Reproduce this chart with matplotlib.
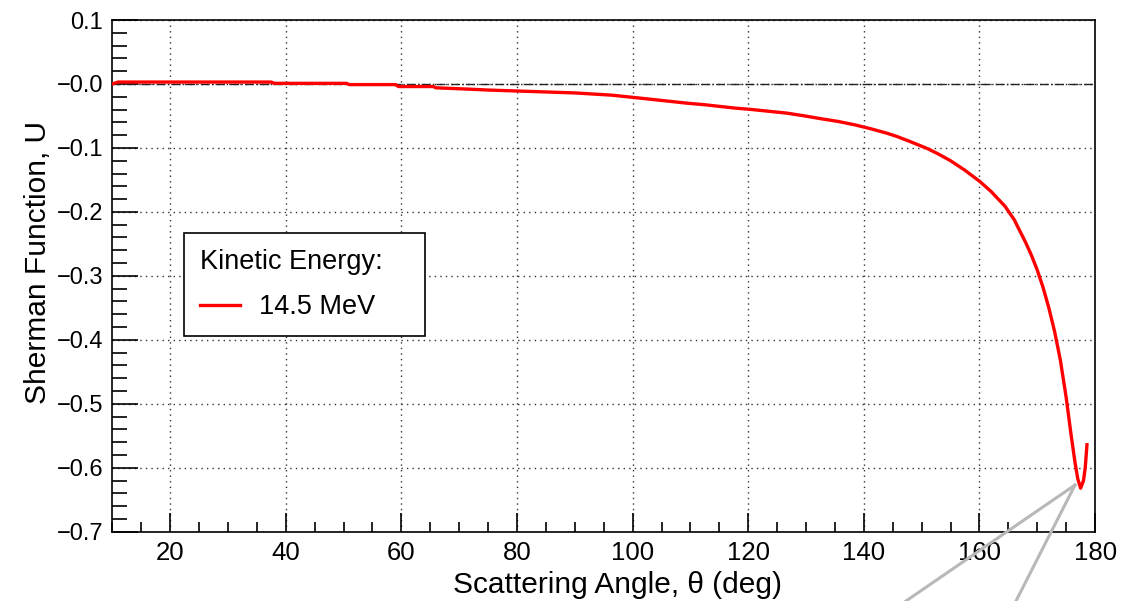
import matplotlib
matplotlib.use('Agg')
import matplotlib.pyplot as plt
from matplotlib.ticker import MultipleLocator, FixedLocator, FixedFormatter
from matplotlib.lines import Line2D

plt.rcParams['font.family'] = ['Liberation Sans', 'DejaVu Sans']

# Sherman function at 14.5 MeV
angle = [10, 11, 20, 30, 37.5, 38, 45, 50.5, 51, 59, 59.5, 65.5, 66, 71.5,
         75, 80, 85, 90, 96.4, 101.7, 106.5, 109.4, 112.4, 115, 117.6, 120.7,
         123.9, 126.7, 129.8, 132.7, 135.5, 138.5, 141.4, 144, 145.7, 148,
         151, 153, 155, 157.5, 160, 162, 164.4, 166, 167, 168, 169, 170, 171,
         172, 173, 174, 175, 175.8, 176.5, 177, 177.5, 178, 178.3, 178.6]
sherman = [0.000, 0.003, 0.003, 0.003, 0.003, 0.001, 0.001, 0.001, -0.001,
           -0.001, -0.004, -0.004, -0.006, -0.008,
           -0.0095, -0.011, -0.0125, -0.014, -0.0175, -0.0225, -0.0272,
           -0.030, -0.0324, -0.035, -0.0376, -0.040,
           -0.043, -0.0456, -0.050, -0.0545, -0.0585, -0.064, -0.0705, -0.077,
           -0.082, -0.090,
           -0.101, -0.110, -0.120, -0.135, -0.152, -0.168, -0.191, -0.212,
           -0.230, -0.248, -0.268, -0.291, -0.318,
           -0.350, -0.387, -0.432, -0.490, -0.545, -0.590, -0.617, -0.632,
           -0.620, -0.600, -0.564]

x_major = [20, 40, 60, 80, 100, 120, 140, 160, 180]
y_major = [0.1, 0.0, -0.1, -0.2, -0.3, -0.4, -0.5, -0.6, -0.7]
y_labels = ['0.1', '\u22120.0', '\u22120.1', '\u22120.2', '\u22120.3',
            '\u22120.4', '\u22120.5', '\u22120.6', '\u22120.7']

fig = plt.figure(figsize=(11.22, 6.01), dpi=100)
ax = fig.add_axes([0.1001, 0.1153, 0.8759, 0.8514])

ax.set_xlim(10, 180)
ax.set_ylim(-0.7, 0.1)

ax.xaxis.set_major_locator(FixedLocator(x_major))
ax.xaxis.set_minor_locator(MultipleLocator(5))
ax.yaxis.set_major_locator(FixedLocator(y_major))
ax.yaxis.set_major_formatter(FixedFormatter(y_labels))
ax.yaxis.set_minor_locator(MultipleLocator(0.02))

ax.tick_params(axis='both', which='both', direction='in', top=False, right=False,
               colors='black', width=1.2)
ax.tick_params(axis='x', which='major', length=13.5, pad=6.5, labelsize=18.5)
ax.tick_params(axis='x', which='minor', length=7)
ax.tick_params(axis='y', which='major', length=19, pad=6.5, labelsize=17)
ax.tick_params(axis='y', which='minor', length=10.8)

for s in ax.spines.values():
    s.set_linewidth(1.2)

ax.grid(True, which='major', linestyle=(0, (1, 3)), color='#333333', linewidth=1.0)
ax.axhline(0, color='#222222', linestyle='-.', linewidth=1.0, zorder=2)

ax.plot(angle, sherman, color='#ff0000', linewidth=2.4, zorder=3)

# legend box
leg_handle = Line2D([], [], color='#ff0000', linewidth=2.4)
leg = ax.legend([leg_handle], ['14.5 MeV'], title='Kinetic Energy:',
                loc='upper left', bbox_to_anchor=(0.073, 0.391, 0.245, 0.193),
                mode='expand', fontsize=19.5, title_fontsize=19.5,
                alignment='left', fancybox=False, framealpha=1,
                edgecolor='black', handlelength=1.48, handletextpad=0.7,
                borderpad=0.6, labelspacing=0.7, borderaxespad=0)
leg.get_frame().set_linewidth(1.2)

fig.text(0.034, 0.564, 'Sherman Function, U', rotation=90, fontsize=21.5,
         ha='center', va='center')
fig.text(0.550, 0.027, 'Scattering Angle, \u03b8 (deg)', fontsize=21.5,
         ha='center', va='center')

# grey callout lines from the lower right corner
for x_end in [906, 1016]:
    fig.add_artist(Line2D([1075 / 1122, x_end / 1122], [1 - 485 / 601, 0],
                          transform=fig.transFigure, color='#b8b8b8',
                          linewidth=2.2, clip_on=False))

fig.savefig('out.png', dpi=100, facecolor='white')
